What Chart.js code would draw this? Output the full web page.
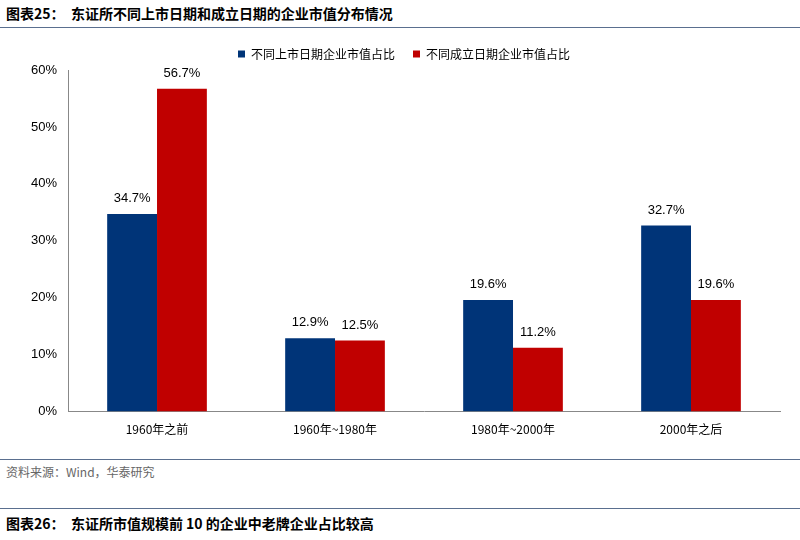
<!DOCTYPE html>
<html><head><meta charset="utf-8">
<script src="https://cdn.jsdelivr.net/npm/chart.js@4"></script>
<style>
body{margin:0;width:800px;height:540px;background:#fff;font-family:"Noto Sans CJK SC","Liberation Sans",sans-serif;position:relative;overflow:hidden}
.t{position:absolute;left:6px;font-size:14px;font-weight:bold;color:#000}
.ln{position:absolute;left:0;width:800px;height:1px;background:#5a6f8f}
#wrap{position:absolute;left:0;top:30px;width:800px;height:420px}
.src{position:absolute;left:6px;top:463px;font-size:12px;color:#666}
</style></head><body>
<div class="t" style="top:3px">图表25：&nbsp; 东证所不同上市日期和成立日期的企业市值分布情况</div>
<div class="ln" style="top:27px"></div>
<div id="wrap"><canvas id="c" width="800" height="420"></canvas></div>
<div class="ln" style="top:459px"></div>
<div class="src">资料来源：Wind，华泰研究</div>
<div class="ln" style="top:508px"></div>
<div class="t" style="top:513px">图表26：&nbsp; 东证所市值规模前 10 的企业中老牌企业占比较高</div>
<script>
const categories=["1960年之前","1960年~1980年","1980年~2000年","2000年之后"];
const listedShare=[34.7,12.9,19.6,32.7];
const foundedShare=[56.7,12.5,11.2,19.6];
const seriesNames=["不同上市日期企业市值占比","不同成立日期企业市值占比"];
const labelPlugin={id:'lbl',afterDatasetsDraw(ch){const x=ch.ctx;x.save();x.font='13px "Liberation Sans",Arial';x.fillStyle='#000';x.textAlign='center';x.textBaseline='bottom';
ch.data.datasets.forEach((d,i)=>{ch.getDatasetMeta(i).data.forEach((b,j)=>{x.fillText(d.data[j].toFixed(1)+'%',b.x,b.y-9);});});x.restore();}};
new Chart(document.getElementById('c'),{type:'bar',
data:{labels:categories,datasets:[
{label:seriesNames[0],data:listedShare,backgroundColor:'#003478',barPercentage:1,categoryPercentage:0.56},
{label:seriesNames[1],data:foundedShare,backgroundColor:'#C00000',barPercentage:1,categoryPercentage:0.56}]},
options:{responsive:false,animation:false,
layout:{padding:{left:28,right:20,top:0,bottom:10}},
plugins:{legend:{position:'top',align:'center',labels:{boxWidth:7,boxHeight:7,color:'#000',font:{size:12,family:'"Noto Sans CJK SC"'},padding:18}},tooltip:{enabled:false}},
scales:{x:{grid:{display:false,drawTicks:true},border:{color:'#888'},ticks:{color:'#000',font:{size:12,family:'"Noto Sans CJK SC"'}}},
y:{min:0,max:60,grid:{display:false},border:{color:'#888'},ticks:{stepSize:10,color:'#000',font:{size:13,family:'"Liberation Sans"'},callback:v=>v+'%'}}}},
plugins:[labelPlugin]});
</script></body></html>
